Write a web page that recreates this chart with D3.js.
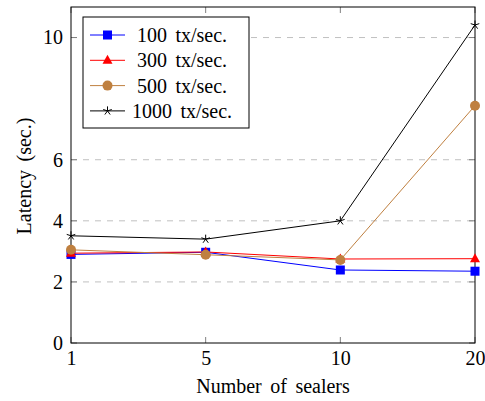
<!DOCTYPE html>
<html><head><meta charset="utf-8">
<script src="https://cdn.jsdelivr.net/npm/d3@7"></script>
<style>body{margin:0;background:#fff}svg{display:block}text{font-family:"Liberation Serif",serif}</style>
</head><body>
<svg id="c" width="485" height="401"></svg>
<script>
const categories = ["1", "5", "10", "20"];
const yTicks = [0, 2, 4, 6, 10];
const s100 = [2.90, 2.97, 2.39, 2.35];
const s300 = [2.94, 2.98, 2.75, 2.76];
const s500 = [3.05, 2.89, 2.72, 7.77];
const s1000 = [3.51, 3.40, 4.00, 10.41];
const seriesNames = ["100 tx/sec.", "300 tx/sec.", "500 tx/sec.", "1000 tx/sec."];

const series = [
  {name: seriesNames[0], values: s100, color: "#0000ff", marker: "square"},
  {name: seriesNames[1], values: s300, color: "#ff0000", marker: "triangle"},
  {name: seriesNames[2], values: s500, color: "#bf8040", marker: "circle"},
  {name: seriesNames[3], values: s1000, color: "#000000", marker: "star"}
];

const svg = d3.select("#c");
const L = 71, R = 475, T = 7, B = 343;
const font = "Liberation Serif";
const FS = 20;
const WS = "3.5px";
const x = d3.scalePoint().domain(categories).range([L, R]);
const y = d3.scaleLinear().domain([0, 11]).range([B, T]);

// grid
svg.append("g").selectAll("line").data(yTicks.filter(d => d > 0)).join("line")
  .attr("x1", L).attr("x2", R).attr("y1", d => y(d)).attr("y2", d => y(d))
  .attr("stroke", "#c0c0c0").attr("stroke-width", 1).attr("stroke-dasharray", "6,6");

// axes
const xAxis = d3.axisBottom(x).tickSize(0).tickPadding(8);
const gx = svg.append("g").attr("transform", `translate(0,${B})`).call(xAxis);
gx.select(".domain").remove();
gx.selectAll("text").attr("font-family", font).attr("font-size", FS).attr("fill", "#000");

const yAxis = d3.axisLeft(y).tickValues(yTicks).tickSize(0).tickPadding(8).tickFormat(d3.format("d"));
const gy = svg.append("g").attr("transform", `translate(${L},0)`).call(yAxis);
gy.select(".domain").remove();
gy.selectAll("text").attr("font-family", font).attr("font-size", FS).attr("fill", "#000");

// tick marks (inside)
const tk = svg.append("g").attr("stroke", "#808080").attr("stroke-width", 1);
categories.forEach(c => {
  tk.append("line").attr("x1", x(c)).attr("x2", x(c)).attr("y1", B).attr("y2", B - 6);
  tk.append("line").attr("x1", x(c)).attr("x2", x(c)).attr("y1", T).attr("y2", T + 6);
});
yTicks.forEach(v => {
  tk.append("line").attr("x1", L).attr("x2", L + 6).attr("y1", y(v)).attr("y2", y(v));
  tk.append("line").attr("x1", R).attr("x2", R - 6).attr("y1", y(v)).attr("y2", y(v));
});

// frame
svg.append("rect").attr("x", L).attr("y", T).attr("width", R - L).attr("height", B - T)
  .attr("fill", "none").attr("stroke", "#000").attr("stroke-width", 1);

function drawMarker(g, type, cx, cy, color) {
  if (type === "square") {
    g.append("rect").attr("x", cx - 4.5).attr("y", cy - 4.5).attr("width", 9).attr("height", 9).attr("fill", color);
  } else if (type === "triangle") {
    g.append("path").attr("d", `M${cx},${cy-5.5}L${cx+5},${cy+3.5}L${cx-5},${cy+3.5}Z`).attr("fill", color);
  } else if (type === "circle") {
    g.append("circle").attr("cx", cx).attr("cy", cy).attr("r", 5).attr("fill", color);
  } else {
    const r = 4.5;
    for (let i = 0; i < 5; i++) {
      const a = -Math.PI / 2 + i * 2 * Math.PI / 5;
      g.append("line").attr("x1", cx).attr("y1", cy)
        .attr("x2", cx + r * Math.cos(a)).attr("y2", cy + r * Math.sin(a))
        .attr("stroke", color).attr("stroke-width", 1);
    }
  }
}

const line = d3.line().x((d, i) => x(categories[i])).y(d => y(d));
series.forEach(s => {
  const g = svg.append("g");
  g.append("path").attr("d", line(s.values)).attr("fill", "none")
    .attr("stroke", s.color).attr("stroke-width", 1);
  s.values.forEach((v, i) => drawMarker(g, s.marker, x(categories[i]), y(v), s.color));
});

// legend
const lg = svg.append("g");
lg.append("rect").attr("x", 83).attr("y", 17).attr("width", 166).attr("height", 111)
  .attr("fill", "#fff").attr("stroke", "#000").attr("stroke-width", 1);
series.forEach((s, i) => {
  const cy = 35 + i * 25.3;
  lg.append("line").attr("x1", 90).attr("x2", 125).attr("y1", cy).attr("y2", cy)
    .attr("stroke", s.color).attr("stroke-width", 1);
  drawMarker(lg, s.marker, 107.5, cy, s.color);
  lg.append("text").attr("x", 182).attr("y", cy).attr("dy", "0.35em").attr("text-anchor", "middle")
    .attr("font-family", font).attr("font-size", FS).style("word-spacing", WS).text(s.name);
});

// axis labels
svg.append("text").attr("x", (L + R) / 2).attr("y", 393).attr("text-anchor", "middle")
  .attr("font-family", font).attr("font-size", FS).style("word-spacing", WS).text("Number of sealers");
svg.append("text").attr("transform", `translate(31,176) rotate(-90)`).attr("text-anchor", "middle")
  .attr("font-family", font).attr("font-size", FS).style("word-spacing", WS).text("Latency (sec.)");
</script>
</body></html>
